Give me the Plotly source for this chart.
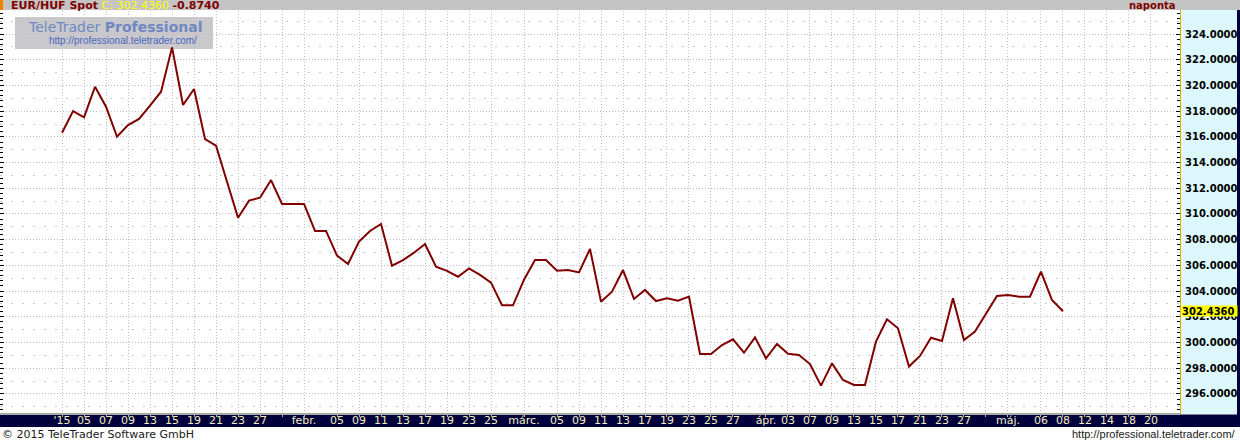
import plotly.graph_objects as go

# ---- data -------------------------------------------------------------
# daily (business-day) closes of EUR/HUF Spot, 2015-01-01 ... 2015-05-08
values = [
    316.32, 318.01, 317.52, 319.90, 318.35, 316.01, 316.92, 317.39, 318.43, 319.51,
    322.96, 318.48, 319.72, 315.83, 315.31, 312.51, 309.71, 311.04, 311.27, 312.64,
    310.78, 310.78, 310.78, 308.68, 308.68, 306.76, 306.11, 307.85, 308.68, 309.22,
    305.98, 306.42, 306.99, 307.67, 305.90, 305.57, 305.12, 305.77, 305.26, 304.66,
    302.90, 302.90, 304.89, 306.42, 306.42, 305.59, 305.64, 305.46, 307.28, 303.18,
    303.96, 305.64, 303.39, 304.09, 303.23, 303.44, 303.26, 303.57, 299.11, 299.11,
    299.81, 300.25, 299.21, 300.40, 298.77, 299.89, 299.13, 299.03, 298.33, 296.65,
    298.38, 297.09, 296.70, 296.70, 300.07, 301.81, 301.11, 298.13, 298.96, 300.38,
    300.12, 303.44, 300.20, 300.85, 302.27, 303.62, 303.70, 303.57, 303.57, 305.51,
    303.31, 302.436,
]
day_index = list(range(len(values)))

# x-axis ticks (business-day index -> label); empty labels keep a gridline only
tick_pos = [0, 2, 4, 6, 8, 10, 12, 14, 16, 18, 20, 22, 25, 27, 29, 31, 33, 35, 37, 39,
            42, 45, 47, 49, 51, 53, 55, 57, 59, 61, 64, 66, 68, 70, 72, 74, 76, 78, 80, 82,
            84, 86, 89, 91, 93, 95, 97, 99]
tick_txt = ["'15", "05", "07", "09", "13", "15", "19", "21", "23", "27", "", "febr.",
            "05", "09", "11", "13", "17", "19", "23", "25",
            "márc.", "05", "09", "11", "13", "17", "19", "23", "25", "27",
            "ápr.", "03", "07", "09", "13", "15", "17", "21", "23", "27",
            "", "máj.", "06", "08", "12", "14", "18", "20"]

title_left = "EUR/HUF Spot"
last_txt = "C: 302.4360"
change_txt = "-0.8740"
period_txt = "naponta"
last_value = 302.436
copyright_txt = "© 2015 TeleTrader Software GmbH"
url_txt = "http://professional.teletrader.com/"

# ---- geometry / style -------------------------------------------------
W, H = 1240, 441
ML, MR, MT, MB = 0, 60, 11, 28
PW, PH = W - ML - MR, H - MT - MB
X_RANGE = [-5.64, 101.64]
Y_RANGE = [294.52, 325.79]


def px(xp):  # pixel x -> paper
    return (xp - ML) / PW


def py(yp):  # pixel y -> paper
    return (H - MB - yp) / PH


NAVY = "#00003c"
GRID = "#c6b8d2"
FONT = "DejaVu Sans"
NARROW = "Liberation Sans"

fig = go.Figure()
fig.add_trace(go.Scatter(x=day_index, y=values, mode="lines",
                         line=dict(color="#800000", width=2),
                         hoverinfo="skip", showlegend=False))
# invisible helpers so the overlay axes are drawn
fig.add_trace(go.Scatter(x=day_index[:1], y=values[:1], yaxis="y2", mode="markers",
                         opacity=0, hoverinfo="skip", showlegend=False))
fig.add_trace(go.Scatter(x=day_index[:1], y=values[:1], yaxis="y3", mode="markers",
                         opacity=0, hoverinfo="skip", showlegend=False))

shapes = [
    # header bar
    dict(type="rect", xref="paper", yref="paper", x0=px(0), x1=px(W), y0=py(10), y1=py(0),
         fillcolor="#c4c4c4", line_width=0, layer="below"),
    dict(type="rect", xref="paper", yref="paper", x0=px(0), x1=px(3), y0=py(10), y1=py(0),
         fillcolor="#f08000", line_width=0, layer="below"),
    # right value panel
    dict(type="rect", xref="paper", yref="paper", x0=px(1180), x1=px(1237), y0=py(414), y1=py(10),
         fillcolor="#dcf8fc", line_width=0, layer="below"),
    dict(type="rect", xref="paper", yref="paper", x0=px(1237), x1=px(W), y0=py(427), y1=py(10),
         fillcolor=NAVY, line_width=0, layer="below"),
    # x-axis band
    dict(type="rect", xref="paper", yref="paper", x0=px(0), x1=px(W), y0=py(427), y1=py(414.5),
         fillcolor=NAVY, line_width=0, layer="below"),
    # orange separator
    dict(type="line", xref="paper", yref="paper", x0=px(1180.5), x1=px(1180.5), y0=py(414), y1=py(10),
         line=dict(color="#f0a800", width=1), layer="above"),
    # logo box
    dict(type="rect", xref="paper", yref="paper", x0=px(15), x1=px(213), y0=py(49), y1=py(17),
         fillcolor="rgba(196,196,200,0.92)", line_width=0, layer="between"),
]

annotations = [
    dict(xref="paper", yref="paper", x=px(9), y=py(5.5), xanchor="left", yanchor="middle",
         text=f"<b>{title_left}</b> <span style='color:#ffff00'>{last_txt}</span> <b>{change_txt}</b>",
         showarrow=False, font=dict(family=FONT, size=11, color="#800000")),
    dict(xref="paper", yref="paper", x=px(1152), y=py(5.5), xanchor="center", yanchor="middle",
         text=f"<b>{period_txt}</b>", showarrow=False,
         font=dict(family=FONT, size=10, color="#800000")),
    dict(xref="paper", yref="paper", x=px(26), y=py(27.5), xanchor="left", yanchor="middle",
         text="TeleTrader <b>Professional</b>", showarrow=False,
         font=dict(family=FONT, size=14, color="#6f88c2")),
    dict(xref="paper", yref="paper", x=px(47), y=py(40.5), xanchor="left", yanchor="middle",
         text="http://professional.teletrader.com/", showarrow=False,
         font=dict(family=NARROW, size=10, color="#4a64c0")),
    dict(xref="paper", yref="y", x=px(1181), y=last_value, xanchor="left", yanchor="middle",
         text="<b>302.4360</b>", showarrow=False, bgcolor="#ffff00", borderpad=0,
         width=55, height=10, align="left",
         font=dict(family=FONT, size=10, color="#000000")),
    dict(xref="paper", yref="paper", x=px(0), y=py(434), xanchor="left", yanchor="middle",
         text=copyright_txt, showarrow=False,
         font=dict(family=FONT, size=11, color="#202020")),
    dict(xref="paper", yref="paper", x=px(1238), y=py(434), xanchor="right", yanchor="middle",
         text=url_txt, showarrow=False,
         font=dict(family=NARROW, size=11, color="#202020")),
]

fig.update_layout(
    width=W, height=H,
    margin=dict(l=ML, r=MR, t=MT, b=MB, pad=0, autoexpand=False),
    paper_bgcolor="#ffffff", plot_bgcolor="#ffffff",
    showlegend=False,
    shapes=shapes, annotations=annotations,
    xaxis=dict(range=X_RANGE, tickmode="array", tickvals=tick_pos, ticktext=tick_txt,
               showgrid=True, gridcolor=GRID, griddash="1px,2px", gridwidth=1,
               ticks="outside", ticklen=2, tickcolor="#c8b870",
               tickfont=dict(family=FONT, size=11, color="#f2eec0"),
               showline=True, linecolor="#a8a8a8", linewidth=2, zeroline=False,
               ticklabelstandoff=-6, automargin=False, fixedrange=True),
    yaxis=dict(range=Y_RANGE, side="left", tick0=0, dtick=2,
               showgrid=True, gridcolor=GRID, griddash="1px,2px", gridwidth=1,
               ticks="inside", ticklen=4, tickcolor="#000000", showticklabels=False,
               minor=dict(tick0=0, dtick=0.4, ticks="inside", ticklen=3, tickcolor="#000000",
                          showgrid=False),
               zeroline=False, showline=False, automargin=False, fixedrange=True),
    yaxis2=dict(range=Y_RANGE, overlaying="y", side="right", anchor="x", tick0=0, dtick=2,
                showgrid=False, ticks="inside", ticklen=4, tickcolor="#000000",
                tickformat=".4f",
                tickfont=dict(family=FONT, size=10, color="#000000", weight="bold"),
                minor=dict(tick0=0, dtick=0.4, ticks="inside", ticklen=3, tickcolor="#000000"),
                ticklabelstandoff=4,
                zeroline=False, showline=False, automargin=False, fixedrange=True),
    yaxis3=dict(range=Y_RANGE, overlaying="y", side="left", anchor="x", tick0=1, dtick=2,
                showgrid=True, gridcolor="#c4ccc6", griddash="2px,9px", gridwidth=1,
                ticks="", showticklabels=False, zeroline=False, showline=False,
                automargin=False, fixedrange=True),
)

fig.write_html("out.html", config={"displayModeBar": False},
               post_script="document.body.style.margin='0';document.body.style.padding='0';")
